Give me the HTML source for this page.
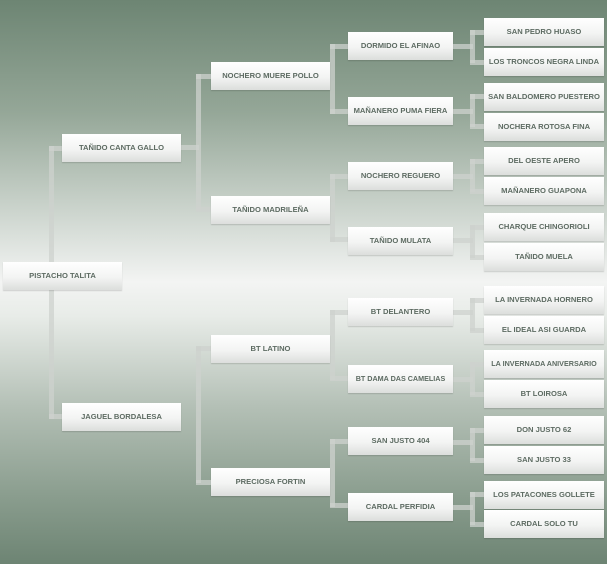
<!DOCTYPE html><html><head><meta charset="utf-8"><style>
body{margin:0;width:613px;height:567px;background:#fff;overflow:hidden;position:relative;font-family:"Liberation Sans",sans-serif}
#bg{position:absolute;left:0;top:0;width:607px;height:564px;background:linear-gradient(180deg,#6d8573 0%,#95a798 20%,#d4dbd5 40%,#f3f4f3 50%,#e8ece8 56%,#b4c0b6 72%,#8a9d8e 88%,#6d8473 100%)}
.b{position:absolute;height:28px;line-height:28px;text-align:center;font-size:7.6px;font-weight:bold;color:#5d6b62;letter-spacing:0;background:linear-gradient(180deg,#fff 0%,#f3f4f3 55%,#dcdedc 100%);box-shadow:0 1px 1px rgba(0,0,0,.15);white-space:nowrap;overflow:hidden}
.l{position:absolute;background:rgba(205,210,205,.75)}
</style></head><body><div id="bg"></div>
<div class="l" style="left:49px;top:146px;width:5px;height:273px"></div>
<div class="l" style="left:49px;top:146px;width:14px;height:5px"></div>
<div class="l" style="left:49px;top:414px;width:14px;height:5px"></div>
<div class="l" style="left:181px;top:145px;width:18px;height:5px"></div>
<div class="l" style="left:196px;top:74px;width:5px;height:137px"></div>
<div class="l" style="left:196px;top:74px;width:16px;height:5px"></div>
<div class="l" style="left:196px;top:207px;width:16px;height:5px"></div>
<div class="l" style="left:196px;top:346px;width:5px;height:137px"></div>
<div class="l" style="left:196px;top:346px;width:16px;height:5px"></div>
<div class="l" style="left:196px;top:480px;width:16px;height:5px"></div>
<div class="l" style="left:330px;top:44px;width:5px;height:70px"></div>
<div class="l" style="left:330px;top:44px;width:18px;height:5px"></div>
<div class="l" style="left:330px;top:109px;width:18px;height:5px"></div>
<div class="l" style="left:330px;top:174px;width:5px;height:68px"></div>
<div class="l" style="left:330px;top:174px;width:18px;height:5px"></div>
<div class="l" style="left:330px;top:237px;width:18px;height:5px"></div>
<div class="l" style="left:330px;top:310px;width:5px;height:70px"></div>
<div class="l" style="left:330px;top:310px;width:18px;height:5px"></div>
<div class="l" style="left:330px;top:376px;width:18px;height:5px"></div>
<div class="l" style="left:330px;top:439px;width:5px;height:68px"></div>
<div class="l" style="left:330px;top:439px;width:18px;height:5px"></div>
<div class="l" style="left:330px;top:503px;width:18px;height:5px"></div>
<div class="l" style="left:453px;top:44px;width:20px;height:5px"></div><div class="l" style="left:470px;top:30px;width:5px;height:33px"></div><div class="l" style="left:470px;top:30px;width:15px;height:5px"></div><div class="l" style="left:470px;top:60px;width:15px;height:5px"></div>
<div class="l" style="left:453px;top:109px;width:20px;height:5px"></div><div class="l" style="left:470px;top:94px;width:5px;height:33px"></div><div class="l" style="left:470px;top:94px;width:15px;height:5px"></div><div class="l" style="left:470px;top:124px;width:15px;height:5px"></div>
<div class="l" style="left:453px;top:174px;width:20px;height:5px"></div><div class="l" style="left:470px;top:159px;width:5px;height:33px"></div><div class="l" style="left:470px;top:159px;width:15px;height:5px"></div><div class="l" style="left:470px;top:189px;width:15px;height:5px"></div>
<div class="l" style="left:453px;top:238px;width:20px;height:5px"></div><div class="l" style="left:470px;top:225px;width:5px;height:33px"></div><div class="l" style="left:470px;top:225px;width:15px;height:5px"></div><div class="l" style="left:470px;top:255px;width:15px;height:5px"></div>
<div class="l" style="left:453px;top:310px;width:20px;height:5px"></div><div class="l" style="left:470px;top:298px;width:5px;height:33px"></div><div class="l" style="left:470px;top:298px;width:15px;height:5px"></div><div class="l" style="left:470px;top:328px;width:15px;height:5px"></div>
<div class="l" style="left:453px;top:377px;width:20px;height:5px"></div><div class="l" style="left:470px;top:362px;width:5px;height:33px"></div><div class="l" style="left:470px;top:362px;width:15px;height:5px"></div><div class="l" style="left:470px;top:392px;width:15px;height:5px"></div>
<div class="l" style="left:453px;top:440px;width:20px;height:5px"></div><div class="l" style="left:470px;top:428px;width:5px;height:33px"></div><div class="l" style="left:470px;top:428px;width:15px;height:5px"></div><div class="l" style="left:470px;top:458px;width:15px;height:5px"></div>
<div class="l" style="left:453px;top:505px;width:20px;height:5px"></div><div class="l" style="left:470px;top:492px;width:5px;height:33px"></div><div class="l" style="left:470px;top:492px;width:15px;height:5px"></div><div class="l" style="left:470px;top:522px;width:15px;height:5px"></div>
<div class="b" style="left:3px;top:262px;width:119px">PISTACHO TALITA</div>
<div class="b" style="left:62px;top:134px;width:119px">TAÑIDO CANTA GALLO</div>
<div class="b" style="left:62px;top:403px;width:119px">JAGUEL BORDALESA</div>
<div class="b" style="left:211px;top:62px;width:119px">NOCHERO MUERE POLLO</div>
<div class="b" style="left:211px;top:196px;width:119px">TAÑIDO MADRILEÑA</div>
<div class="b" style="left:211px;top:335px;width:119px">BT LATINO</div>
<div class="b" style="left:211px;top:468px;width:119px">PRECIOSA FORTIN</div>
<div class="b" style="left:348px;top:32px;width:105px">DORMIDO EL AFINAO</div>
<div class="b" style="left:348px;top:97px;width:105px">MAÑANERO PUMA FIERA</div>
<div class="b" style="left:348px;top:162px;width:105px">NOCHERO REGUERO</div>
<div class="b" style="left:348px;top:227px;width:105px">TAÑIDO MULATA</div>
<div class="b" style="left:348px;top:298px;width:105px">BT DELANTERO</div>
<div class="b" style="left:348px;top:365px;width:105px;font-size:7.2px">BT DAMA DAS CAMELIAS</div>
<div class="b" style="left:348px;top:427px;width:105px">SAN JUSTO 404</div>
<div class="b" style="left:348px;top:493px;width:105px">CARDAL PERFIDIA</div>
<div class="b" style="left:484px;top:18px;width:120px">SAN PEDRO HUASO</div>
<div class="b" style="left:484px;top:48px;width:120px">LOS TRONCOS NEGRA LINDA</div>
<div class="b" style="left:484px;top:83px;width:120px">SAN BALDOMERO PUESTERO</div>
<div class="b" style="left:484px;top:113px;width:120px">NOCHERA ROTOSA FINA</div>
<div class="b" style="left:484px;top:147px;width:120px">DEL OESTE APERO</div>
<div class="b" style="left:484px;top:177px;width:120px">MAÑANERO GUAPONA</div>
<div class="b" style="left:484px;top:213px;width:120px">CHARQUE CHINGORIOLI</div>
<div class="b" style="left:484px;top:243px;width:120px">TAÑIDO MUELA</div>
<div class="b" style="left:484px;top:286px;width:120px">LA INVERNADA HORNERO</div>
<div class="b" style="left:484px;top:316px;width:120px">EL IDEAL ASI GUARDA</div>
<div class="b" style="left:484px;top:350px;width:120px;font-size:7.2px">LA INVERNADA ANIVERSARIO</div>
<div class="b" style="left:484px;top:380px;width:120px">BT LOIROSA</div>
<div class="b" style="left:484px;top:416px;width:120px">DON JUSTO 62</div>
<div class="b" style="left:484px;top:446px;width:120px">SAN JUSTO 33</div>
<div class="b" style="left:484px;top:481px;width:120px">LOS PATACONES GOLLETE</div>
<div class="b" style="left:484px;top:510px;width:120px">CARDAL SOLO TU</div>
</body></html>
